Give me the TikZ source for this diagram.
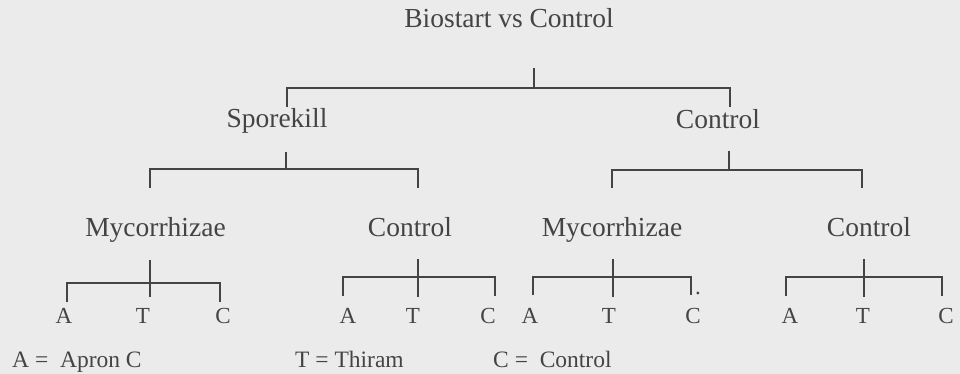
\documentclass[tikz,border=0pt]{standalone}
\usepackage{fontspec}
\setmainfont{Liberation Serif}
\definecolor{paper}{HTML}{EBEBEB}
\definecolor{ink}{HTML}{444444}

% One bracket of the tree: a stem from the parent label down to a bar,
% and two legs hanging from the bar's ends.
% #1 name, #2 stem x, #3 stem top, #4 stem bottom, #5 bar y,
% #6 left x, #7 right x, #8 leg bottom
\newcommand\treebracket[8]{%
  \coordinate (#1-top) at (#2,#3);
  \coordinate (#1-stem) at (#2,#4);
  \coordinate (#1-bl) at (#6,#5);
  \coordinate (#1-br) at (#7,#5);
  \coordinate (#1-l) at (#6,#8);
  \coordinate (#1-r) at (#7,#8);
  \draw[bracket] (#1-top) -- (#1-stem);
  \draw[bracket] (#1-l) -- (#1-bl) -- (#1-br) -- (#1-r);
}

\begin{document}
\begin{tikzpicture}[x=1pt,y=-1pt,
  lbl/.style={anchor=base, inner sep=0pt, text=ink, font=\fontsize{27.5}{32}\selectfont},
  leaf/.style={anchor=base, inner sep=0pt, text=ink, font=\fontsize{23}{27}\selectfont},
  key/.style={anchor=base west, inner sep=0pt, text=ink, font=\fontsize{23.5}{27}\selectfont},
  bracket/.style={draw=ink, line width=1.5pt, line cap=butt, line join=miter}]
\fill[paper] (0,0) rectangle (960,374);
\useasboundingbox (0,0) rectangle (960,374);

% labels of the tree
\node[lbl] (root) at (509,28) {Biostart vs Control};
\node[lbl] (spk) at (277,128) {Sporekill};
\node[lbl] (ctl) at (718,129) {Control};
\node[lbl] (spkmyc) at (155.5,236) {Mycorrhizae};
\node[lbl] (spkctl) at (410,236) {Control};
\node[lbl] (ctlmyc) at (612,236) {Mycorrhizae};
\node[lbl] (ctlctl) at (869,236) {Control};

% treatments
\node[leaf] (a1) at (64,323) {A};
\node[leaf] (t1) at (143,323) {T};
\node[leaf] (c1) at (223,323) {C};
\node[leaf] (a2) at (348,323) {A};
\node[leaf] (t2) at (413,323) {T};
\node[leaf] (c2) at (488,323) {C};
\node[leaf] (a3) at (530,323) {A};
\node[leaf] (t3) at (609,323) {T};
\node[leaf] (c3) at (693,323) {C};
\node[leaf] (dot) at (698,294) {.};
\node[leaf] (a4) at (790,323) {A};
\node[leaf] (t4) at (863,323) {T};
\node[leaf] (c4) at (946,323) {C};

% key
\node[key] (keya) at (12,367) {A =\ \ Apron C};
\node[key] (keyt) at (295,367) {T = Thiram};
\node[key] (keyc) at (493,367) {C =\ \ Control};

% brackets
\treebracket{b0}{534}{68}{88}{88}{287}{730}{107}
\treebracket{b1}{286}{152}{169}{169}{150}{418}{188}
\treebracket{b2}{729}{151}{170}{170}{612}{862}{188}
\treebracket{g1}{150}{260}{297}{283}{67}{220}{302}
\treebracket{g2}{418}{259}{297}{277}{343}{495}{296}
\treebracket{g3}{613}{259}{297}{277}{533}{691}{295}
\treebracket{g4}{864}{259}{297}{277}{786}{942}{296}
\end{tikzpicture}
\end{document}
